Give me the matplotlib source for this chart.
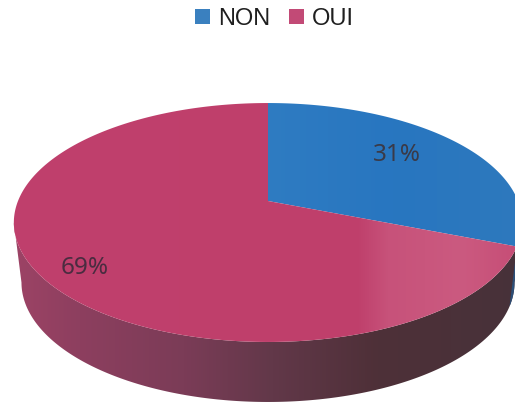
import numpy as np
import matplotlib
matplotlib.use("Agg")
import matplotlib.pyplot as plt
from matplotlib.patches import Polygon, Patch
from matplotlib.colors import LinearSegmentedColormap as LSC

plt.rcParams["font.family"] = ["Liberation Sans", "DejaVu Sans"]

categories = ["NON", "OUI"]
values = [31, 69]
labels = ["31%", "69%"]

W, H = 515, 403
fig = plt.figure(figsize=(W / 100, H / 100), dpi=100)
ax = fig.add_axes([0, 0, 1, 1])
ax.set_xlim(0, W)
ax.set_ylim(H, 0)
ax.axis("off")

CX, CY, RX, RY, PERSP, DEPTH, SHRINK = 268, 201, 250, 115.6, 0.18, 60, 0.97


def proj(theta, lower=False):
    """theta: clockwise angle from the top of the disc, radians."""
    u, v = np.sin(theta), -np.cos(theta)
    d = 1 - PERSP * v
    x, y = RX * u / d, RY * v / d
    if lower:
        return CX + x * SHRINK, CY + y + DEPTH
    return CX + x, CY + y


def gradient(poly, stops, zorder):
    """Fill a polygon with a left-to-right colour ramp."""
    patch = Polygon(poly, closed=True, fc="none", ec="none", zorder=zorder)
    ax.add_patch(patch)
    cmap = LSC.from_list("g", stops)
    im = ax.imshow(np.linspace(0, 1, 512)[None, :], cmap=cmap, aspect="auto",
                   extent=(0, W + 10, H, 0), zorder=zorder, interpolation="bilinear")
    im.set_clip_path(patch)
    ax.set_xlim(0, W)
    ax.set_ylim(H, 0)


fracs = np.cumsum([0] + values) / sum(values) * 2 * np.pi

# side wall: front half of the disc
t_right = np.arccos(-PERSP)
t_left = 2 * np.pi - t_right
t = np.linspace(t_right, t_left, 200)
x0, y0 = proj(t)
x1, y1 = proj(t, True)
wall = np.r_[np.c_[x0, y0], np.c_[x1, y1][::-1]]
gradient(wall, [(0.0, "#a04467"), (0.15, "#8d3f5f"), (0.35, "#7b3c57"),
                (0.52, "#623849"), (0.72, "#4e3038"), (1.0, "#47323a")], 1)

# blue sliver of the wall on the right
tb = np.linspace(t_right, fracs[1], 30)
xa, ya = proj(tb)
xb, yb = proj(tb, True)
ax.add_patch(Polygon(np.r_[np.c_[xa, ya], np.c_[xb, yb][::-1]], closed=True,
                     fc="#2c4f78", ec="none", zorder=2))

# top faces
ramps = [
    [(0.0, "#2a78bf"), (0.5, "#2f7cc2"), (0.75, "#2876c0"), (1.0, "#2e79bd")],
    [(0.0, "#c0406d"), (0.68, "#bf3f6b"), (0.74, "#c7527a"), (0.88, "#cb5a80"), (1.0, "#c64c75")],
]
for i, ramp in enumerate(ramps):
    t = np.linspace(fracs[i], fracs[i + 1], 300)
    x, y = proj(t)
    gradient(np.r_[[[CX, CY]], np.c_[x, y]], ramp, 3)

ax.text(397, 155, labels[0], color="#3a3a48", fontsize=17.5, family="Noto Sans",
        ha="center", va="center", zorder=5)
ax.text(85, 268, labels[1], color="#4a2c40", fontsize=17.5, family="Noto Sans",
        ha="center", va="center", zorder=5)

handles = [Patch(fc="#3a80bf", ec="none"), Patch(fc="#c24a76", ec="none")]
fig.legend(handles, categories, loc="upper center", bbox_to_anchor=(0.533, 1.033), ncol=2,
           frameon=False, fontsize=17, handlelength=0.64, handleheight=0.64,
           handletextpad=0.33, columnspacing=0.8, labelcolor="#1f1f1f")

fig.savefig("out.png", dpi=100)
